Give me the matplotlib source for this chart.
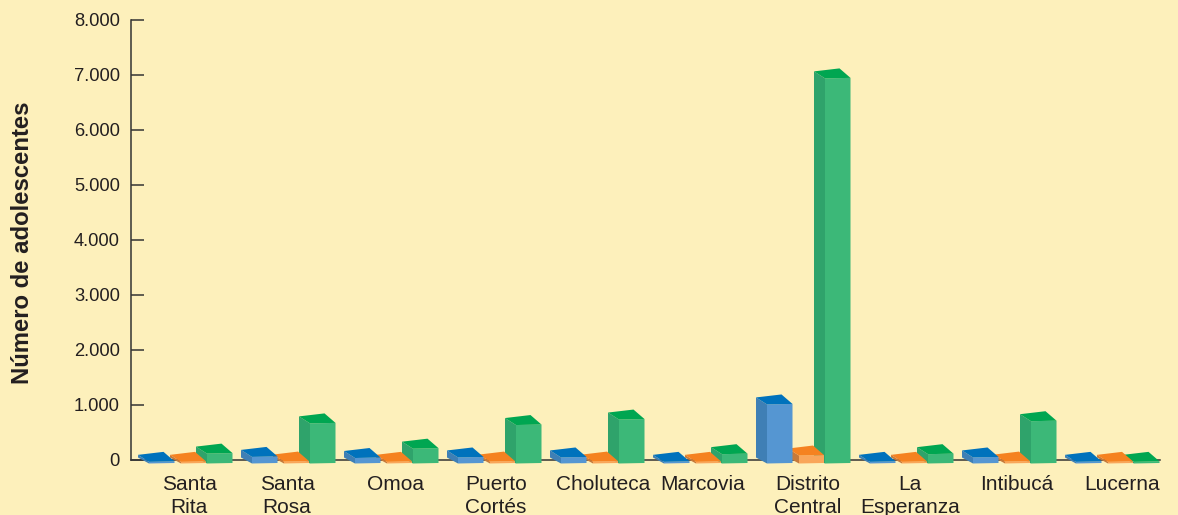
import matplotlib
matplotlib.use('Agg')
import matplotlib.pyplot as plt
from matplotlib.patches import Polygon

plt.rcParams['font.family'] = ['Liberation Sans', 'DejaVu Sans']

# datos
municipios = ['Santa\nRita', 'Santa\nRosa', 'Omoa', 'Puerto\nCortés', 'Choluteca',
              'Marcovia', 'Distrito\nCentral', 'La\nEsperanza', 'Intibucá', 'Lucerna']
azul = [30, 120, 100, 110, 110, 30, 1075, 30, 110, 30]
naranja = [30, 35, 30, 35, 35, 30, 145, 30, 35, 30]
verde = [180, 730, 270, 700, 800, 170, 7010, 170, 770, 30]
ticks_y = [0, 1000, 2000, 3000, 4000, 5000, 6000, 7000, 8000]

# centro de cada etiqueta, en pixeles
centros_etiqueta = [189, 287, 396, 496, 603, 703, 808, 910, 1017, 1122]

W, H = 1178, 515
fondo = '#fdf0bb'
linea = '#333333'
texto = '#231f20'

fig = plt.figure(figsize=(W / 100, H / 100), dpi=100, facecolor=fondo)
ax = fig.add_axes([131 / W, (H - 459.5) / H, (W - 131) / W, 439.5 / H], facecolor=fondo)
ax.set_xlim(131, W)
ax.set_ylim(0, 8000)

px_y = 8000 / 439.5  # unidades por pixel


def barra(x, ancho, valor, colores, z):
    # caja con perspectiva: frente, lado izquierdo y tapa
    sup, frente, lado = colores
    y0 = -4 * px_y
    y1 = y0 + valor
    fl = (x, y1)
    fr = (x + ancho, y1 + 0.5 * px_y)
    bl = (x - 11, y1 + 7 * px_y)
    br = (x + ancho - 11, y1 + 10 * px_y)
    ax.add_patch(Polygon([(x - 11, y0 + 6 * px_y), (x, y0), fl, bl], fc=lado, ec='none', zorder=z, clip_on=False))
    ax.add_patch(Polygon([(x, y0), (x + ancho, y0 + 0.5 * px_y), fr, fl], fc=frente, ec='none', zorder=z, clip_on=False))
    ax.add_patch(Polygon([fl, fr, br, bl], fc=sup, ec='none', zorder=z, clip_on=False))


col_azul = ('#0072bc', '#5596d2', '#3f7fb5')
col_naranja = ('#f58220', '#f9a65a', '#c77a3a')
col_verde = ('#00a651', '#3cb878', '#2fa36b')

for i in range(len(municipios)):
    x = 149 + 103 * i
    barra(x + 58, 25.5, verde[i], col_verde, 3)
    barra(x + 32, 25, naranja[i], col_naranja, 4)
    barra(x, 25.5, azul[i], col_azul, 5)
    ax.text(centros_etiqueta[i], -15 * px_y, municipios[i], ha='center', va='top',
            fontsize=15, color=texto, linespacing=1.3, clip_on=False)

for s in ['top', 'right']:
    ax.spines[s].set_visible(False)
ax.spines['left'].set_color(linea)
ax.spines['bottom'].set_color(linea)
ax.spines['left'].set_linewidth(1.1)
ax.spines['bottom'].set_linewidth(1.1)
ax.spines['bottom'].set_bounds(131, 1160)
ax.set_xticks([])
ax.set_yticks(ticks_y)
ax.set_yticklabels([f'{v:,}'.replace(',', '.') for v in ticks_y], fontsize=13.2, color=texto)
ax.tick_params(axis='y', direction='in', length=9, width=1.1, color=linea, pad=8)

fig.text(23 / W, 1 - 243 / H, 'Número de adolescentes', rotation=90, ha='center', va='center',
         fontsize=17.2, fontweight='bold', color=texto)

fig.savefig('out.png', dpi=100, facecolor=fondo)
